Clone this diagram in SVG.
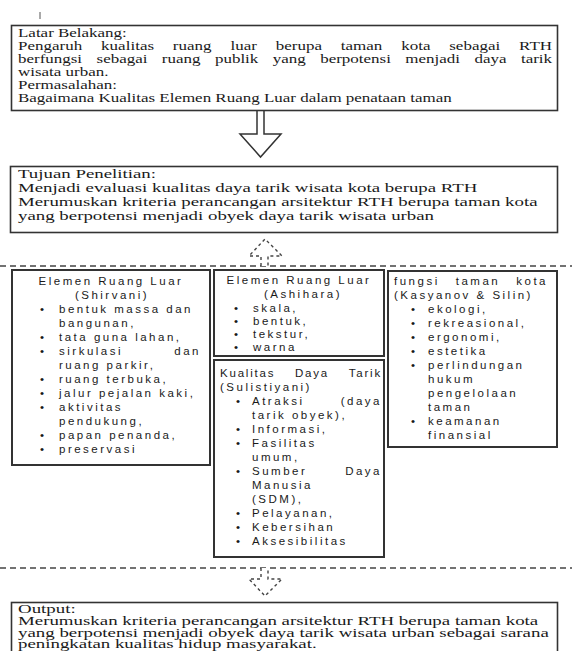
<svg xmlns="http://www.w3.org/2000/svg" width="572" height="651" viewBox="0 0 572 651">
<style>
.bg{fill:#fff}
.box{fill:#fff;stroke:#333;stroke-width:1.6}
.mbox{fill:#fff;stroke:#333;stroke-width:2}
.ser{font-family:"Liberation Serif","Times New Roman",serif;font-size:13px;fill:#1a1a1a}
.sm{font-size:12.3px}
.os{font-size:11.8px}
.sans{font-family:"Liberation Sans",Arial,sans-serif;font-size:11.5px;fill:#1a1a1a;letter-spacing:2.5px}
.tight{letter-spacing:1.8px}
.bul{font-family:"Liberation Sans",Arial,sans-serif;font-size:11.5px;fill:#1a1a1a;text-anchor:middle}
.mid{text-anchor:middle}
.end{text-anchor:end}
.dash{fill:none;stroke:#444;stroke-width:1.5;stroke-dasharray:6 4}
.darr{fill:#fff;stroke:#444;stroke-width:1.4;stroke-dasharray:3 3}
.arr{fill:#fff;stroke:#333;stroke-width:1.5}
</style>
<rect class="bg" x="0" y="0" width="572" height="651"/>
<line x1="40" y1="12" x2="40" y2="19" stroke="#555" stroke-width="1"/>

<g id="connectors">
  <path class="arr" d="M257,110 V134 H240 L260.5,157 L281,134 H264 V110"/>
  <line class="dash" x1="0" y1="266" x2="572" y2="266"/>
  <path class="darr" d="M261,266 V256 H249 L265,239 L282,256 H268 V266"/>
  <line class="dash" x1="0" y1="568" x2="572" y2="568"/>
  <path class="darr" d="M261,568 V579 H249 L265,596 L282,579 H268 V568"/>
</g>

<g id="latar">
  <rect class="box" x="11.5" y="25.5" width="546" height="85"/>
  <g transform="translate(18 0) scale(1.38 1)">
    <text class="ser sm" x="0" y="37">Latar Belakang:</text>
    <text class="ser sm" x="0" y="50" word-spacing="10.5" textLength="387" lengthAdjust="spacing">Pengaruh kualitas ruang luar berupa taman kota sebagai RTH</text>
    <text class="ser sm" x="0" y="63" word-spacing="7.4" textLength="387" lengthAdjust="spacing">berfungsi sebagai ruang publik yang berpotensi menjadi daya tarik</text>
    <text class="ser sm" x="0" y="76">wisata urban.</text>
    <text class="ser sm" x="0" y="89">Permasalahan:</text>
    <text class="ser sm" x="0" y="102">Bagaimana Kualitas Elemen Ruang Luar dalam penataan taman</text>
  </g>
</g>

<g id="tujuan">
  <rect class="box" x="10.5" y="166.5" width="547" height="66"/>
  <g transform="translate(18 0) scale(1.45 1)">
    <text class="ser" x="0" y="178">Tujuan Penelitian:</text>
    <text class="ser" x="0" y="192">Menjadi evaluasi kualitas daya tarik wisata kota berupa RTH</text>
    <text class="ser" x="0" y="206">Merumuskan kriteria perancangan arsitektur RTH berupa taman kota</text>
    <text class="ser" x="0" y="220">yang berpotensi menjadi obyek daya tarik wisata urban</text>
  </g>
</g>

<g id="shirvani">
  <rect class="mbox" x="12" y="270" width="198" height="195"/>
  <text class="sans mid" x="111" y="285">Elemen Ruang Luar</text>
  <text class="sans mid" x="112" y="299">(Shirvani)</text>
  <text class="bul" x="42" y="313">•</text><text class="sans" x="59" y="313">bentuk massa dan</text>
  <text class="sans" x="59" y="327">bangunan,</text>
  <text class="bul" x="42" y="341">•</text><text class="sans" x="59" y="341">tata guna lahan,</text>
  <text class="bul" x="42" y="355">•</text><text class="sans" x="59" y="355">sirkulasi</text><text class="sans end" x="201" y="355">dan</text>
  <text class="sans" x="59" y="369">ruang parkir,</text>
  <text class="bul" x="42" y="383">•</text><text class="sans" x="59" y="383">ruang terbuka,</text>
  <text class="bul" x="42" y="397">•</text><text class="sans" x="59" y="397">jalur pejalan kaki,</text>
  <text class="bul" x="42" y="411">•</text><text class="sans" x="59" y="411">aktivitas</text>
  <text class="sans" x="59" y="425">pendukung,</text>
  <text class="bul" x="42" y="439">•</text><text class="sans" x="59" y="439">papan penanda,</text>
  <text class="bul" x="42" y="453">•</text><text class="sans" x="59" y="453">preservasi</text>
</g>

<g id="ashihara">
  <rect class="mbox" x="214" y="270" width="170" height="86"/>
  <text class="sans mid" x="299" y="284">Elemen Ruang Luar</text>
  <text class="sans mid" x="303" y="298">(Ashihara)</text>
  <text class="bul" x="236" y="312">•</text><text class="sans" x="253" y="312">skala,</text>
  <text class="bul" x="236" y="325">•</text><text class="sans" x="253" y="325">bentuk,</text>
  <text class="bul" x="236" y="338">•</text><text class="sans" x="253" y="338">tekstur,</text>
  <text class="bul" x="236" y="351">•</text><text class="sans" x="253" y="351">warna</text>
</g>

<g id="sulistiyani">
  <rect class="mbox" x="214" y="360" width="170" height="197"/>
  <text class="sans tight" x="220" y="377">Kualitas</text><text class="sans tight" x="295" y="377">Daya</text><text class="sans tight end" x="382" y="377">Tarik</text>
  <text class="sans" x="220" y="391">(Sulistiyani)</text>
  <text class="bul" x="238" y="405">•</text><text class="sans" x="252" y="405">Atraksi</text><text class="sans end" x="382" y="405">(daya</text>
  <text class="sans" x="252" y="419">tarik obyek),</text>
  <text class="bul" x="238" y="433">•</text><text class="sans" x="252" y="433">Informasi,</text>
  <text class="bul" x="238" y="447">•</text><text class="sans" x="252" y="447">Fasilitas</text>
  <text class="sans" x="252" y="461">umum,</text>
  <text class="bul" x="238" y="475">•</text><text class="sans" x="252" y="475">Sumber</text><text class="sans end" x="382" y="475">Daya</text>
  <text class="sans" x="252" y="489">Manusia</text>
  <text class="sans" x="252" y="503">(SDM),</text>
  <text class="bul" x="238" y="517">•</text><text class="sans" x="252" y="517">Pelayanan,</text>
  <text class="bul" x="238" y="531">•</text><text class="sans" x="252" y="531">Kebersihan</text>
  <text class="bul" x="238" y="545">•</text><text class="sans" x="252" y="545">Aksesibilitas</text>
</g>

<g id="kasyanov">
  <rect class="mbox" x="388" y="271" width="169" height="176"/>
  <text class="sans" x="394" y="285">fungsi</text><text class="sans mid" x="478" y="285">taman</text><text class="sans end" x="548" y="285">kota</text>
  <text class="sans" x="394" y="299">(Kasyanov &amp; Silin)</text>
  <text class="bul" x="413" y="313">•</text><text class="sans" x="428" y="313">ekologi,</text>
  <text class="bul" x="413" y="327">•</text><text class="sans" x="428" y="327">rekreasional,</text>
  <text class="bul" x="413" y="341">•</text><text class="sans" x="428" y="341">ergonomi,</text>
  <text class="bul" x="413" y="355">•</text><text class="sans" x="428" y="355">estetika</text>
  <text class="bul" x="413" y="369">•</text><text class="sans" x="428" y="369">perlindungan</text>
  <text class="sans" x="428" y="383">hukum</text>
  <text class="sans" x="428" y="397">pengelolaan</text>
  <text class="sans" x="428" y="411">taman</text>
  <text class="bul" x="413" y="425">•</text><text class="sans" x="428" y="425">keamanan</text>
  <text class="sans" x="428" y="439">finansial</text>
</g>

<g id="output">
  <rect class="box" x="11.5" y="602.5" width="546" height="60"/>
  <g transform="translate(18 0) scale(1.6 1)">
    <text class="ser os" x="0" y="613">Output:</text>
    <text class="ser os" x="0" y="625">Merumuskan kriteria perancangan arsitektur RTH berupa taman kota</text>
    <text class="ser os" x="0" y="637">yang berpotensi menjadi obyek daya tarik wisata urban sebagai sarana</text>
    <text class="ser os" x="0" y="648.5">peningkatan kualitas hidup masyarakat.</text>
  </g>
</g>
</svg>
